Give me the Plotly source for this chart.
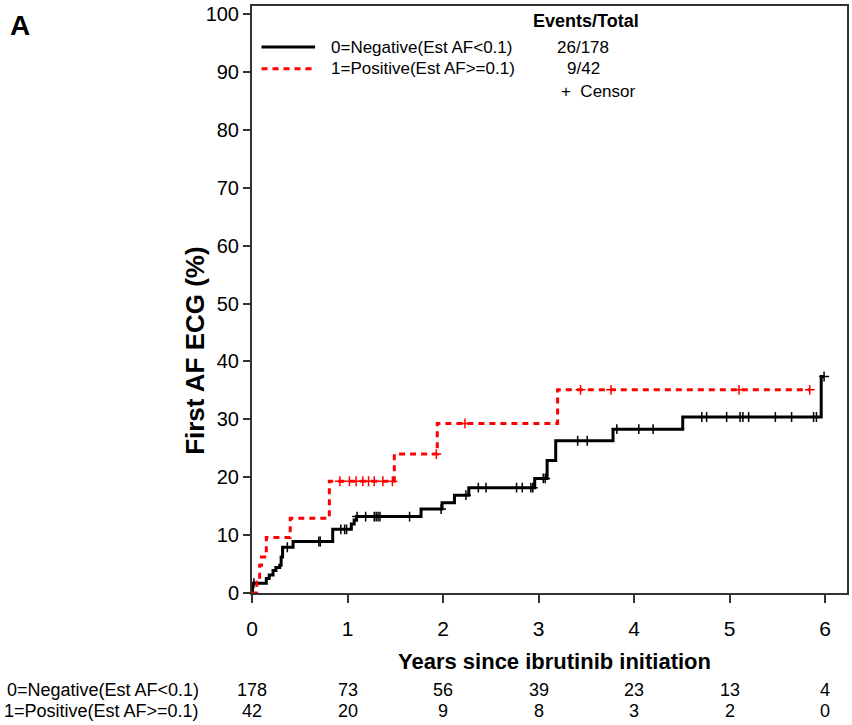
import numpy as np
import plotly.graph_objects as go

# ---------------- data ----------------
neg_times = [0, 0.005, 0.15, 0.18, 0.22, 0.25, 0.29, 0.305, 0.32, 0.43, 0.845, 1.04, 1.07, 1.095,
             1.77, 1.99, 2.12, 2.27, 2.96, 3.09, 3.18, 3.78, 4.51, 5.96]
neg_pct = [0, 1.7, 2.5, 3.1, 3.9, 4.4, 4.8, 6.2, 7.9, 8.9, 11.0, 11.9, 12.6, 13.2,
           14.5, 15.6, 16.9, 18.2, 19.8, 22.9, 26.3, 28.3, 30.4, 37.4]
neg_end = 5.99
neg_censor = [0.02, 0.37, 0.70, 0.715, 0.93, 0.97, 0.99, 1.10, 1.19, 1.28, 1.30, 1.32, 1.34, 1.65,
              1.98, 2.24, 2.37, 2.45, 2.77, 2.83, 2.92, 2.94, 3.05, 3.07, 3.41, 3.51, 3.82, 4.05,
              4.20, 4.71, 4.76, 4.97, 5.11, 5.14, 5.20, 5.48, 5.65, 5.88, 5.91, 5.99]

pos_times = [0, 0.05, 0.08, 0.10, 0.15, 0.40, 0.81, 1.49, 1.94, 3.20]
pos_pct = [0, 2.4, 4.8, 6.2, 9.6, 12.9, 19.3, 24.0, 29.3, 35.1]
pos_end = 5.84
pos_censor = [0.92, 1.02, 1.09, 1.16, 1.22, 1.28, 1.37, 1.47, 1.93, 2.23, 3.44, 3.76, 5.10, 5.84]

group_labels = ["0=Negative(Est AF<0.1)", "1=Positive(Est AF>=0.1)"]
events_total = ["26/178", "9/42"]
risk_times = [0, 1, 2, 3, 4, 5, 6]
risk_neg = [178, 73, 56, 39, 23, 13, 4]
risk_pos = [42, 20, 9, 8, 3, 2, 0]
y_ticks = [0, 10, 20, 30, 40, 50, 60, 70, 80, 90, 100]

ARIAL = "Liberation Sans, Arial, sans-serif"


def step_y(times, vals, t):
    idx = np.searchsorted(np.array(times), np.array(t), side="right") - 1
    return np.array(vals)[idx]


fig = go.Figure()

series = [
    (neg_times, neg_pct, neg_end, neg_censor, "black", "solid"),
    (pos_times, pos_pct, pos_end, pos_censor, "#ff0000", "6px,5px"),
]
for times, vals, end, cens, col, dash in series:
    xs = list(times) + [end]
    ys = list(vals) + [vals[-1]]
    fig.add_trace(go.Scatter(x=xs, y=ys, mode="lines", line_shape="hv",
                             line=dict(color=col, width=3, dash=dash),
                             showlegend=False, hoverinfo="skip"))
    fig.add_trace(go.Scatter(x=cens, y=step_y(times, vals, cens), mode="markers",
                             marker=dict(symbol="cross-thin", size=7,
                                         line=dict(color=col, width=1.5)),
                             showlegend=False, hoverinfo="skip"))

fig.update_layout(
    width=852, height=725,
    margin=dict(l=252, r=3, t=5, b=132),
    paper_bgcolor="white", plot_bgcolor="white",
    xaxis=dict(range=[0, 6.23], tickvals=risk_times, ticks="outside", ticklen=8, tickwidth=2,
               tickcolor="#333", showline=True, linewidth=2, linecolor="#333", mirror=True,
               showgrid=False, zeroline=False, ticklabelstandoff=8,
               tickfont=dict(family=ARIAL, size=21, color="black")),
    yaxis=dict(range=[0, 101.4], tickvals=y_ticks, ticks="outside", ticklen=7, tickwidth=2,
               tickcolor="#333", showline=True, linewidth=2, linecolor="#333", mirror=True,
               showgrid=False, zeroline=False,
               tickfont=dict(family=ARIAL, size=20, color="black")),
)


def A(text, x, y, size, xanchor="center", xref="paper", angle=0):
    return dict(text=text, x=x, y=y, xref=xref, yref="paper", xanchor=xanchor,
                yanchor="middle", textangle=angle, showarrow=False,
                font=dict(family=ARIAL, size=size, color="black"))


ann = []
ann.append(A("<b>A</b>", -0.39, 0.966, 28))
ann.append(A("<b>Years since ibrutinib initiation</b>", 0.509, -0.117, 22))
ann.append(A("<b>First AF ECG (%)</b>", -0.097, 0.413, 26, angle=-90))
ann.append(A("<b>Events/Total</b>", 0.561, 0.974, 18))
leg_y = [0.930, 0.893]
for lab, et, yy in zip(group_labels, events_total, leg_y):
    ann.append(A(lab, 0.130, yy, 17, xanchor="left"))
    ann.append(A(et, 0.557, yy, 17))
ann.append(A("+  Censor", 0.516, 0.854, 17, xanchor="left"))
risk_y = [-0.165, -0.201]
for lab, counts, yy in zip(group_labels, [risk_neg, risk_pos], risk_y):
    ann.append(A(lab, -0.086, yy, 18, xanchor="right"))
    for t, n in zip(risk_times, counts):
        ann.append(A(str(n), t, yy, 18, xref="x"))
fig.update_layout(annotations=ann)

# legend line samples
fig.add_shape(type="line", xref="paper", yref="paper", x0=0.016, x1=0.106, y0=0.930, y1=0.930,
              line=dict(color="black", width=3))
fig.add_shape(type="line", xref="paper", yref="paper", x0=0.016, x1=0.106, y0=0.893, y1=0.893,
              line=dict(color="#ff0000", width=3, dash="6px,5px"))

fig.write_html("out.html")
